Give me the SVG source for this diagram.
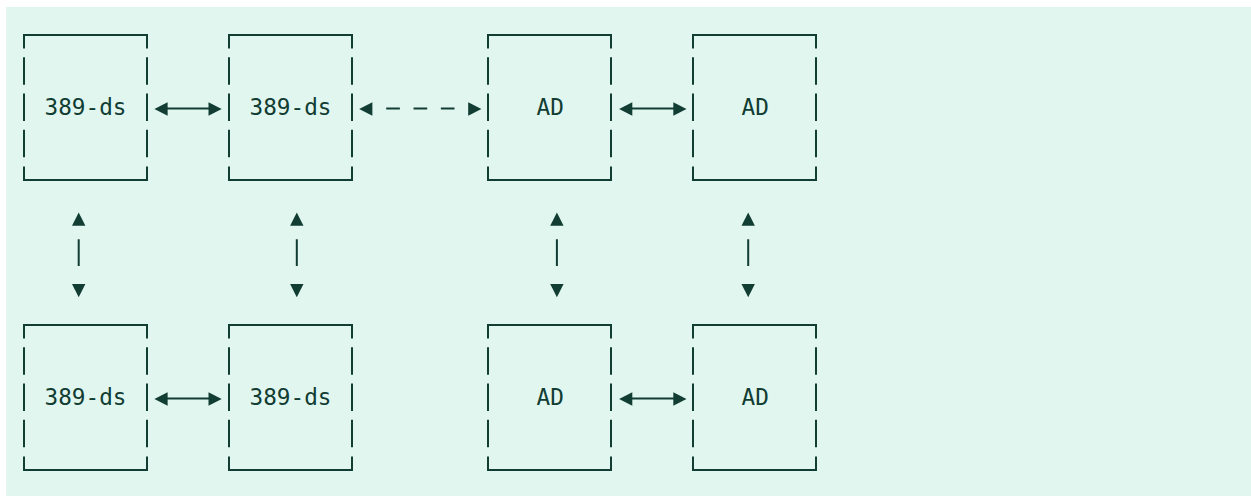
<svg xmlns="http://www.w3.org/2000/svg" width="1251" height="497" viewBox="0 0 1251 497">
<style>
text{font-family:"DejaVu Sans Mono","Liberation Mono",monospace;font-size:22.7px;fill:#113d33}
.ln{fill:none;stroke:#113d33;stroke-width:2;stroke-linecap:butt}
.dash{stroke-dasharray:13.67 13.67}
.ah{fill:#113d33}
</style>
<defs>
<path id="ah" class="ah" d="M0,0 L-13.2,-6.7 L-13.2,6.7 Z"/>
</defs>
<rect x="6" y="7" width="1245" height="489" fill="#e2f6f0"/>
<g id="node-ds1">
<path class="ln" d="M24,48.5 V35 H147 V48.5 M24,57.3 V84.8 M147,57.3 V84.8 M24,93.5 V121 M147,93.5 V121 M24,129.8 V157.3 M147,129.8 V157.3 M24,166.5 V180 H147 V166.5"/>
<text x="44.5" y="115.35">389-ds</text>
</g>
<g id="node-ds2">
<path class="ln" d="M229,48.5 V35 H352 V48.5 M229,57.3 V84.8 M352,57.3 V84.8 M229,93.5 V121 M352,93.5 V121 M229,129.8 V157.3 M352,129.8 V157.3 M229,166.5 V180 H352 V166.5"/>
<text x="249.5" y="115.35">389-ds</text>
</g>
<g id="node-ad1">
<path class="ln" d="M488,48.5 V35 H611 V48.5 M488,57.3 V84.8 M611,57.3 V84.8 M488,93.5 V121 M611,93.5 V121 M488,129.8 V157.3 M611,129.8 V157.3 M488,166.5 V180 H611 V166.5"/>
<text x="536.5" y="115.35">AD</text>
</g>
<g id="node-ad2">
<path class="ln" d="M693,48.5 V35 H816 V48.5 M693,57.3 V84.8 M816,57.3 V84.8 M693,93.5 V121 M816,93.5 V121 M693,129.8 V157.3 M816,129.8 V157.3 M693,166.5 V180 H816 V166.5"/>
<text x="741.5" y="115.35">AD</text>
</g>
<g id="node-ds3">
<path class="ln" d="M24,338.5 V325 H147 V338.5 M24,347.3 V374.8 M147,347.3 V374.8 M24,383.5 V411 M147,383.5 V411 M24,419.8 V447.3 M147,419.8 V447.3 M24,456.5 V470 H147 V456.5"/>
<text x="44.5" y="405.35">389-ds</text>
</g>
<g id="node-ds4">
<path class="ln" d="M229,338.5 V325 H352 V338.5 M229,347.3 V374.8 M352,347.3 V374.8 M229,383.5 V411 M352,383.5 V411 M229,419.8 V447.3 M352,419.8 V447.3 M229,456.5 V470 H352 V456.5"/>
<text x="249.5" y="405.35">389-ds</text>
</g>
<g id="node-ad3">
<path class="ln" d="M488,338.5 V325 H611 V338.5 M488,347.3 V374.8 M611,347.3 V374.8 M488,383.5 V411 M611,383.5 V411 M488,419.8 V447.3 M611,419.8 V447.3 M488,456.5 V470 H611 V456.5"/>
<text x="536.5" y="405.35">AD</text>
</g>
<g id="node-ad4">
<path class="ln" d="M693,338.5 V325 H816 V338.5 M693,347.3 V374.8 M816,347.3 V374.8 M693,383.5 V411 M816,383.5 V411 M693,419.8 V447.3 M816,419.8 V447.3 M693,456.5 V470 H816 V456.5"/>
<text x="741.5" y="405.35">AD</text>
</g>
<g id="connectors">
<!-- ds1 <-> ds2 (top) -->
<path class="ln" d="M167,108.5 H209"/>
<use href="#ah" transform="translate(154.4,109) rotate(180)"/>
<use href="#ah" transform="translate(221.7,109)"/>
<!-- ds2 <-> ad1 (dashed) -->
<path class="ln dash" d="M386.2,108.5 H454.5"/>
<use href="#ah" transform="translate(359.2,109) rotate(180)"/>
<use href="#ah" transform="translate(481.4,109)"/>
<!-- ad1 <-> ad2 (top) -->
<path class="ln" d="M631.7,108.5 H674"/>
<use href="#ah" transform="translate(619.1,109) rotate(180)"/>
<use href="#ah" transform="translate(686.5,109)"/>
<!-- ds3 <-> ds4 (bottom) -->
<path class="ln" d="M167,398.5 H209"/>
<use href="#ah" transform="translate(154.4,399) rotate(180)"/>
<use href="#ah" transform="translate(221.7,399)"/>
<!-- ad3 <-> ad4 (bottom) -->
<path class="ln" d="M631.7,398.5 H674"/>
<use href="#ah" transform="translate(619.1,399) rotate(180)"/>
<use href="#ah" transform="translate(686.5,399)"/>
<!-- vertical links -->
<path class="ln" d="M78.7,239.3 V266 M296.8,239.3 V266 M556.9,239.3 V266 M748.2,239.3 V266"/>
<use href="#ah" transform="translate(78.7,212.5) rotate(-90)"/>
<use href="#ah" transform="translate(78.7,297.3) rotate(90)"/>
<use href="#ah" transform="translate(296.8,212.5) rotate(-90)"/>
<use href="#ah" transform="translate(296.8,297.3) rotate(90)"/>
<use href="#ah" transform="translate(556.9,212.5) rotate(-90)"/>
<use href="#ah" transform="translate(556.9,297.3) rotate(90)"/>
<use href="#ah" transform="translate(748.2,212.5) rotate(-90)"/>
<use href="#ah" transform="translate(748.2,297.3) rotate(90)"/>
</g>
</svg>
